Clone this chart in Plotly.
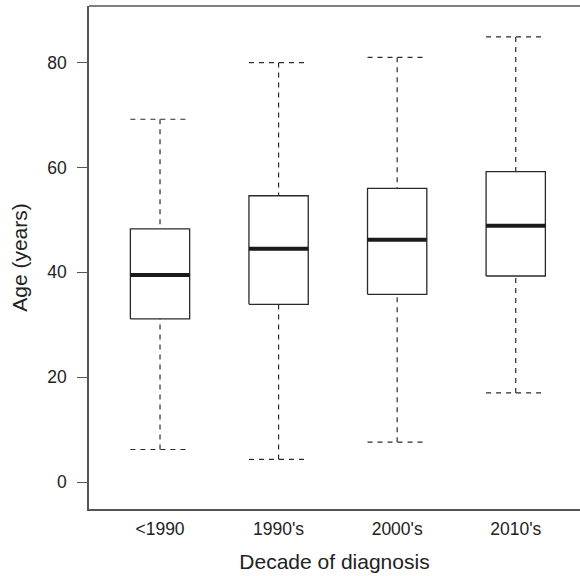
import plotly.graph_objects as go

categories = ["<1990", "1990's", "2000's", "2010's"]
lower_whisker = [6.2, 4.3, 7.6, 17.0]
q1 = [31.1, 33.9, 35.8, 39.3]
median = [39.5, 44.5, 46.2, 48.9]
q3 = [48.3, 54.6, 56.0, 59.2]
upper_whisker = [69.2, 80.0, 81.0, 84.9]
y_ticks = [0, 20, 40, 60, 80]

half = 0.25
line_col = "#2a2a2a"
dash = "5px,5px"
fig = go.Figure()
for i, cat in enumerate(categories):
    x = i + 1
    # whiskers (dashed)
    fig.add_trace(go.Scatter(x=[x, x], y=[upper_whisker[i], q3[i]], mode="lines",
                             line=dict(color=line_col, width=1.2, dash=dash), showlegend=False, hoverinfo="skip"))
    fig.add_trace(go.Scatter(x=[x, x], y=[lower_whisker[i], q1[i]], mode="lines",
                             line=dict(color=line_col, width=1.2, dash=dash), showlegend=False, hoverinfo="skip"))
    # caps
    for v in (upper_whisker[i], lower_whisker[i]):
        fig.add_trace(go.Scatter(x=[x - half, x + half], y=[v, v], mode="lines",
                                 line=dict(color=line_col, width=1.2, dash=dash), showlegend=False, hoverinfo="skip"))
    # box
    fig.add_trace(go.Scatter(x=[x - half, x + half, x + half, x - half, x - half],
                             y=[q1[i], q1[i], q3[i], q3[i], q1[i]], mode="lines",
                             fill="toself", fillcolor="white",
                             line=dict(color=line_col, width=1.3), showlegend=False, hoverinfo="skip"))
    # median
    fig.add_trace(go.Scatter(x=[x - half, x + half], y=[median[i], median[i]], mode="lines",
                             line=dict(color="#1a1a1a", width=4), showlegend=False, hoverinfo="skip"))

font = "Liberation Sans, Arial, Helvetica, sans-serif"
fig.update_layout(
    width=580, height=576,
    margin=dict(l=89, r=0, t=6, b=67),
    plot_bgcolor="white", paper_bgcolor="white",
    font=dict(family=font, size=17.5, color="#222"),
    showlegend=False,
    xaxis=dict(range=[0.401, 4.542], tickmode="array", tickvals=[1, 2, 3, 4], ticktext=categories,
               showgrid=False, zeroline=False, showline=True, linecolor="#555", linewidth=1.5,
               ticks="outside", ticklen=3, tickcolor="rgba(0,0,0,0)",
               title=dict(text="Decade of diagnosis", font=dict(size=21), standoff=17)),
    yaxis=dict(range=[-5.15, 90.8], tickmode="array", tickvals=y_ticks,
               showgrid=False, zeroline=False, showline=True, linecolor="#555", linewidth=1.5,
               ticks="outside", ticklen=10, tickcolor="#555", tickwidth=1.3,
               ticklabelstandoff=7,
               title=dict(text="Age (years)", font=dict(size=21), standoff=14)),
    shapes=[dict(type="line", xref="paper", yref="paper", x0=0, x1=1, y0=1, y1=1,
                 line=dict(color="#555", width=1.5))],
)
fig.write_html("out.html")
